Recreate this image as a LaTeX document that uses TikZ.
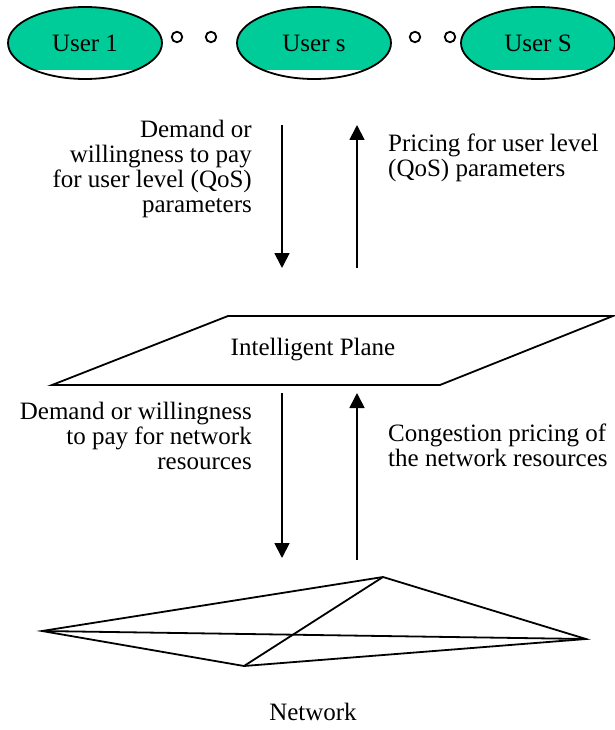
\documentclass[tikz,border=0pt]{standalone}
\usepackage{fontspec}
\setmainfont{Liberation Serif}
\usepackage{tikz}
\usetikzlibrary{positioning,shapes.geometric,arrows.meta}
\definecolor{usergreen}{RGB}{0,204,153}
\tikzset{
  every node/.style={font=\fontsize{25}{25}\selectfont},
  user/.style={ellipse, draw, line width=1.8pt, fill=usergreen, minimum width=154pt, minimum height=72pt, inner sep=0pt,
    path picture={\fill[white] (path picture bounding box.south west) rectangle ([yshift=9pt]path picture bounding box.south east);}},
  dot/.style={circle, draw, line width=1.8pt, minimum size=10.5pt, inner sep=0pt},
  lbl/.style={inner sep=0pt},
  flow/.style={line width=1.8pt, -{Triangle[width=15pt,length=15pt]}},
  outline/.style={line width=1.8pt, line join=miter}
}
\begin{document}
\begin{tikzpicture}[x=1pt,y=-1pt]
\useasboundingbox (0,0) rectangle (615,730);
\node[user] (u1) at (85,43) {User 1};
\node[user] (us) at (314,43) {User s};
\node[user] (uS) at (538,43) {User S};
\foreach \x/\n in {177/a,211/b,415/c,450/d}
  \node[dot] (dot\n) at (\x,37) {};

\coordinate (dn1) at (282,125);
\coordinate (dn2) at (282,268);
\coordinate (up1) at (357,268);
\coordinate (up2) at (357,125);
\draw[flow] (dn1) -- (dn2);
\draw[flow] (up1) -- (up2);
\node[lbl, anchor=east, align=right] (dem1) at (252,169) {Demand or\\willingness to pay\\for user level (QoS)\\parameters};
\node[lbl, anchor=west, align=left] (pri1) at (388,158) {Pricing for user level\\(QoS) parameters};

\draw[outline] (52,385) -- (228,316) -- (613,316) -- (440,385) -- cycle;
\node (plane) at (313,350) {Intelligent Plane};

\coordinate (dn3) at (282,393);
\coordinate (dn4) at (282,558);
\coordinate (up3) at (357,560);
\coordinate (up4) at (357,393);
\draw[flow] (dn3) -- (dn4);
\draw[flow] (up3) -- (up4);
\node[lbl, anchor=east, align=right] (dem2) at (252,436) {Demand or willingness\\to pay for network\\resources};
\node[lbl, anchor=west, align=left] (pri2) at (388,445) {Congestion pricing of\\the network resources};

\coordinate (nl) at (42,631);
\coordinate (nt) at (383,577);
\coordinate (nr) at (586,639);
\coordinate (nb) at (244,666);
\draw[outline] (nl) -- (nt) -- (nr) -- (nb) -- cycle;
\draw[outline] (nl) -- (nr);
\draw[outline] (nt) -- (nb);
\node (net) at (313,712) {Network};
\end{tikzpicture}
\end{document}
